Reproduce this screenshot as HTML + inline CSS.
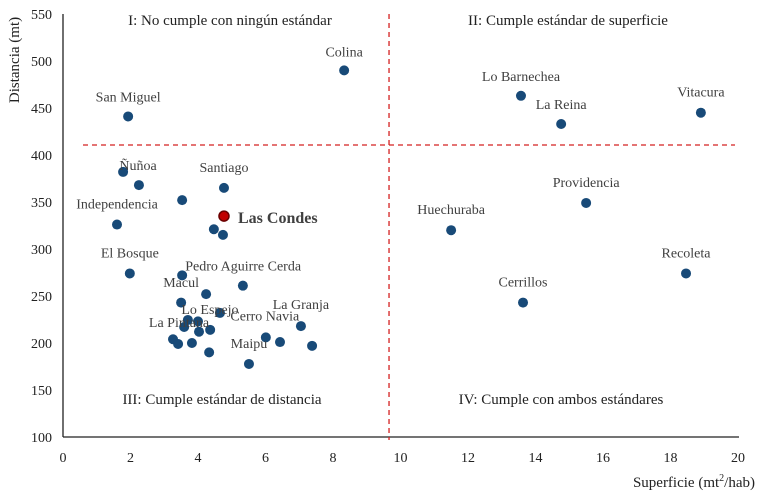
<!DOCTYPE html>
<html><head><meta charset="utf-8"><style>
body{margin:0;background:#fff;}
svg{display:block;font-family:"Liberation Serif",serif;}
</style></head><body>
<svg id="chart" width="767" height="493" viewBox="0 0 767 493"></svg>
<script>
const xTicks=[0,2,4,6,8,10,12,14,16,18,20];
const yTicks=[100,150,200,250,300,350,400,450,500,550];
const xs=[8.33,1.93,13.57,14.76,18.9,1.78,2.25,3.53,4.77,1.6,4.77,4.47,4.74,1.98,3.53,5.33,4.24,3.5,4.65,7.05,3.7,4.0,3.59,4.03,4.36,6.01,6.43,7.38,3.26,3.41,3.82,4.33,5.51,11.5,15.5,18.46,13.63];
const ys=[490,441,463,433,445,382,368,352,365,326,335,321,315,274,272,261,252,243,232,218,224.5,223,217,212,214,206,201,197,204,199,200,190,177.7,320,349,274,243];
const names=["Colina","San Miguel","Lo Barnechea","La Reina","Vitacura","Ñuñoa","","","Santiago","Independencia","Las Condes","","","El Bosque","Pedro Aguirre Cerda","","Macul","","Lo Espejo","La Granja","","","","","","Cerro Navia","","","La Pintana","","","","Maipu","Huechuraba","Providencia","Recoleta","Cerrillos"];
const ldx=[0,0,0,0,0,15,0,0,0,0,14,0,0,0,61,0,-25,0,-10,0,0,0,0,0,0,-1,0,0,6,0,0,0,0,0,0,0,0];
const ldy=[-14,-15,-15,-15,-16,-2,0,0,-16,-16,7,0,0,-16,-5,0,-7,0,1,-17,0,0,0,0,0,-17,0,0,-12,0,0,0,-16,-16,-16,-16,-16];
const vLineX=9.66, hLineY=410.6;
const X=v=>63+v*33.75, Y=v=>14+(550-v)*0.94;
const svg=document.getElementById('chart'), NS='http://www.w3.org/2000/svg';
function mk(t,a,txt){const e=document.createElementNS(NS,t);for(const k in a)e.setAttribute(k,a[k]);if(txt!==undefined)e.textContent=txt;svg.appendChild(e);return e;}
let e;
e=mk('line',{x1:63,y1:14,x2:63,y2:437,stroke:'#222','stroke-width':1.3});

e=mk('line',{x1:63,y1:437,x2:739,y2:437,stroke:'#222','stroke-width':1.3});

xTicks.forEach(t=>{e=mk('text',{x:X(t),y:462,'text-anchor':'middle','font-size':14,fill:'#222'},String(t));
});
yTicks.forEach(t=>{e=mk('text',{x:52,y:Y(t)+5,'text-anchor':'end','font-size':14,fill:'#222'},String(t));
});
e=mk('line',{x1:X(vLineX),y1:14,x2:X(vLineX),y2:440,stroke:'#d42020','stroke-width':1.3,'stroke-dasharray':'5,4'});

e=mk('line',{x1:83,y1:Y(hLineY),x2:735,y2:Y(hLineY),stroke:'#d42020','stroke-width':1.3,'stroke-dasharray':'5,4'});

const quads=[["I: No cumple con ningún estándar",230,25],["II: Cumple estándar de superficie",568,25],["III: Cumple estándar de distancia",222,404],["IV: Cumple con ambos estándares",561,404]];
quads.forEach(q=>{e=mk('text',{x:q[1],y:q[2],'text-anchor':'middle','font-size':15,fill:'#222'},q[0]);
});
xs.forEach((v,i)=>{const red=names[i]==="Las Condes";
e=mk('circle',{cx:X(v),cy:Y(ys[i]),r:5,fill:red?'#c00000':'#184a78',stroke:red?'#6a0000':'none','stroke-width':1.5});
});
names.forEach((n,i)=>{if(!n)return;const lc=n==="Las Condes";
e=mk('text',{x:X(xs[i])+ldx[i],y:Y(ys[i])+ldy[i],'text-anchor':lc?'start':'middle','font-size':lc?16:14,'font-weight':lc?'bold':'normal',fill:lc?'#404040':'#404040'},n);
});
e=mk('text',{x:0,y:0,transform:'translate(19,60) rotate(-90)','text-anchor':'middle','font-size':15,fill:'#222'},'Distancia (mt)');

e=mk('text',{x:755,y:487,'text-anchor':'end','font-size':15,fill:'#222'});
e.innerHTML='Superficie (mt<tspan dy="-6" font-size="10">2</tspan><tspan dy="6">/hab)</tspan>';

</script>
</body></html>
